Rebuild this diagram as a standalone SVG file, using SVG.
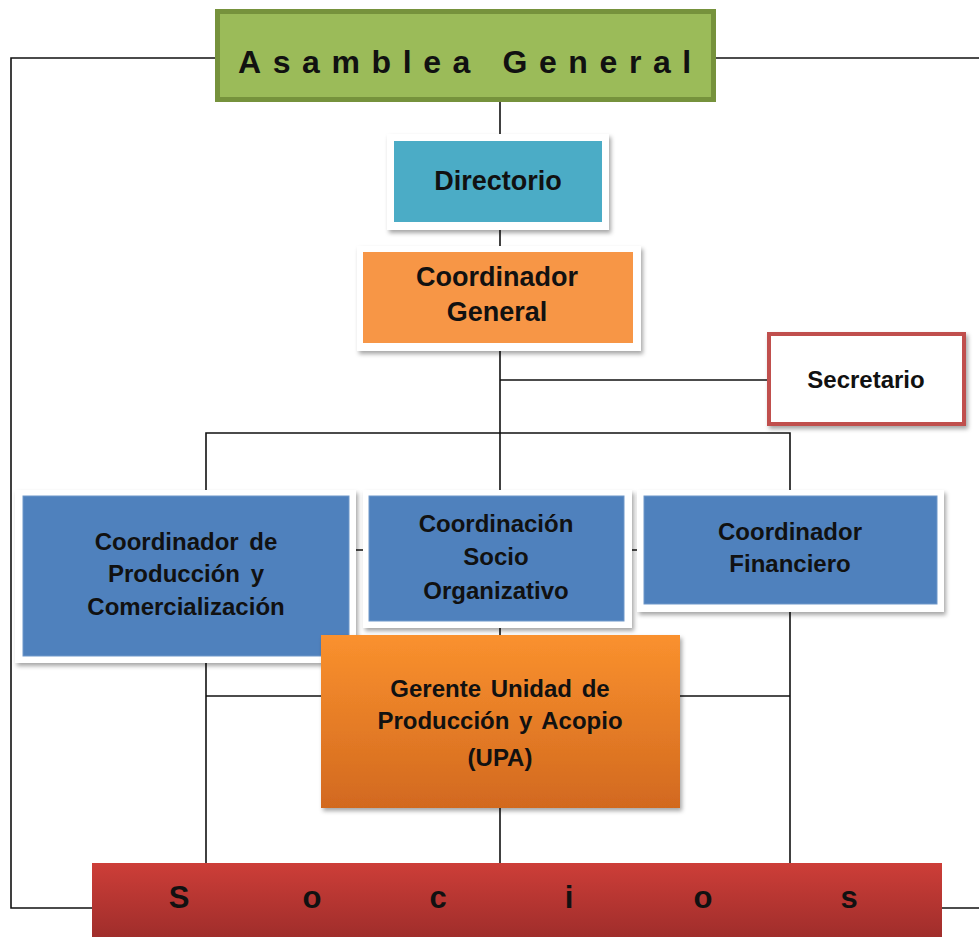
<svg xmlns="http://www.w3.org/2000/svg" width="979" height="937" viewBox="0 0 979 937">
<defs>
<filter id="sh" x="-10%" y="-10%" width="125%" height="130%">
<feDropShadow dx="2" dy="3" stdDeviation="2" flood-color="#000" flood-opacity="0.35"/>
</filter>
<linearGradient id="gOr" x1="0" y1="0" x2="0" y2="1">
<stop offset="0" stop-color="#fa912e"/>
<stop offset="1" stop-color="#d2691f"/>
</linearGradient>
<linearGradient id="gRed" x1="0" y1="0" x2="0" y2="1">
<stop offset="0" stop-color="#cd3e38"/>
<stop offset="1" stop-color="#9c2c2a"/>
</linearGradient>
</defs>
<style>
.ln{stroke:#111;stroke-width:1.6;fill:none}
.frame{fill:#fff;filter:url(#sh)}
.blue{fill:#4f81bd;stroke:#6f97c9;stroke-width:1}
.t{font-family:"Liberation Sans",Arial,sans-serif;font-weight:bold;fill:#111;text-anchor:middle}
.t24{font-size:24px}
.t26{font-size:27px}
</style>
<rect width="979" height="937" fill="#fff"/>
<g id="connectors">
<polyline class="ln" points="217,58 11,58 11,908 92,908"/>
<line class="ln" x1="714" y1="58" x2="979" y2="58"/>
<line class="ln" x1="942" y1="908" x2="979" y2="908"/>
<line class="ln" x1="500" y1="100" x2="500" y2="134"/>
<line class="ln" x1="500" y1="230" x2="500" y2="246"/>
<line class="ln" x1="500" y1="351" x2="500" y2="496"/>
<line class="ln" x1="500" y1="380" x2="768" y2="380"/>
<polyline class="ln" points="206,496 206,433 790,433 790,496"/>
<line class="ln" x1="200" y1="550" x2="790" y2="550"/>
<line class="ln" x1="500" y1="620" x2="500" y2="640"/>
<line class="ln" x1="206" y1="656" x2="206" y2="863"/>
<line class="ln" x1="206" y1="696" x2="322" y2="696"/>
<line class="ln" x1="680" y1="696" x2="790" y2="696"/>
<line class="ln" x1="790" y1="604" x2="790" y2="863"/>
<line class="ln" x1="500" y1="806" x2="500" y2="863"/>
</g>
<g id="asamblea">
<rect x="217.5" y="11.5" width="496" height="88" fill="#9bbb59" stroke="#76923c" stroke-width="5"/>
<text class="t" x="238" y="73" style="font-size:32px;text-anchor:start;letter-spacing:11.6px">Asamblea General</text>
</g>
<g id="directorio">
<rect class="frame" x="387" y="134" width="222" height="96"/>
<rect x="394" y="141" width="208" height="81" fill="#4bacc6"/>
<text class="t t26" x="498" y="190">Directorio</text>
</g>
<g id="coordinador-general">
<rect class="frame" x="357" y="246" width="284" height="105"/>
<rect x="363" y="252" width="270" height="91" fill="#f79646"/>
<text class="t t26" x="497" y="286">Coordinador</text>
<text class="t t26" x="497" y="321">General</text>
</g>
<g id="secretario">
<rect x="769" y="334" width="195" height="90" fill="#fff" stroke="#c0504d" stroke-width="4" filter="url(#sh)"/>
<text class="t" x="866" y="388" style="font-size:24px">Secretario</text>
</g>
<g id="coord-produccion">
<rect class="frame" x="15" y="490" width="341" height="173"/>
<rect class="blue" x="23" y="496" width="326" height="160"/>
<text class="t t24" x="186" y="550" word-spacing="4">Coordinador de</text>
<text class="t t24" x="186" y="582" word-spacing="4">Producción y</text>
<text class="t t24" x="186" y="615">Comercialización</text>
</g>
<g id="coord-socio">
<rect class="frame" x="363" y="490" width="269" height="138"/>
<rect class="blue" x="369" y="496" width="255" height="125"/>
<text class="t t24" x="496" y="532">Coordinación</text>
<text class="t t24" x="496" y="565">Socio</text>
<text class="t t24" x="496" y="599">Organizativo</text>
</g>
<g id="coord-financiero">
<rect class="frame" x="637" y="490" width="307" height="122"/>
<rect class="blue" x="644" y="496" width="293" height="108"/>
<text class="t t24" x="790" y="540">Coordinador</text>
<text class="t t24" x="790" y="572">Financiero</text>
</g>
<g id="gerente-upa">
<rect x="321" y="635" width="359" height="173" fill="url(#gOr)" filter="url(#sh)"/>
<text class="t t24" x="500" y="697" word-spacing="3">Gerente Unidad de</text>
<text class="t t24" x="500" y="729" word-spacing="3">Producción y Acopio</text>
<text class="t t24" x="500" y="766">(UPA)</text>
</g>
<g id="socios">
<rect x="92" y="863" width="850" height="80" fill="url(#gRed)"/>
<text class="t" x="179 312 438 569 703 849" y="908" style="font-size:31px">Socios</text>
</g>
</svg>
